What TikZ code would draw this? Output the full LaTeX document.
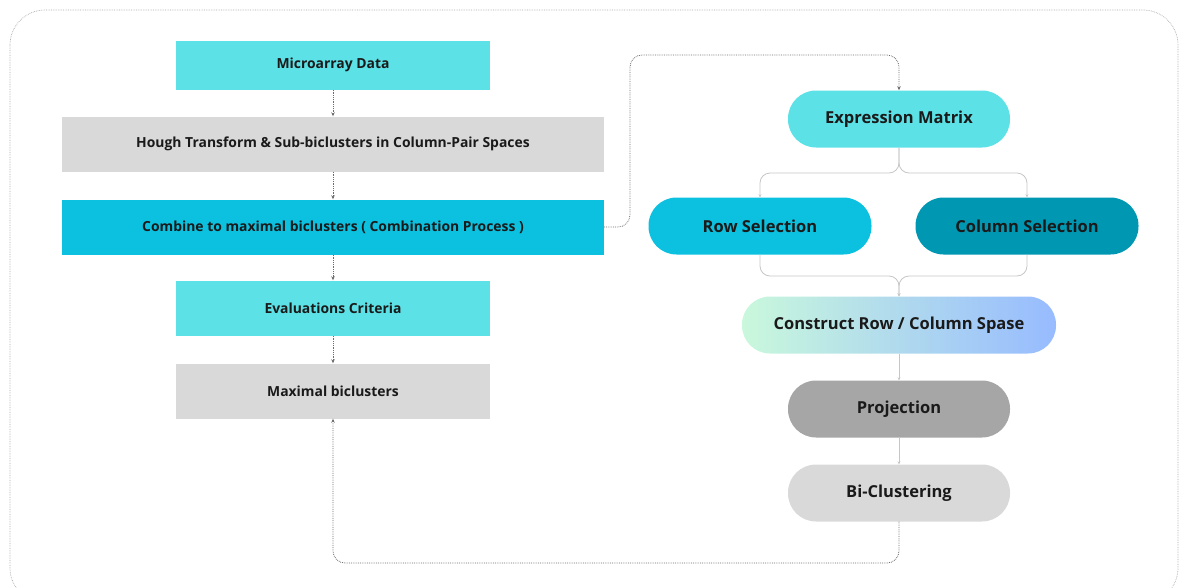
\documentclass[tikz,border=0pt]{standalone}
\usepackage{fontspec}
\setmainfont{Open Sans}
\usepackage{tikz}
\usetikzlibrary{arrows.meta}
\usepackage{xcolor}

\definecolor{turq}{HTML}{5CE1E6}
\definecolor{cyanbox}{HTML}{0CC0DF}
\definecolor{tealbox}{HTML}{0097B2}
\definecolor{lightbox}{HTML}{D9D9D9}
\definecolor{midbox}{HTML}{A6A6A6}
\definecolor{mintbox}{HTML}{C9F8DC}
\definecolor{bluebox}{HTML}{97BBFF}
\definecolor{inktext}{HTML}{1A1A1A}

\begin{document}
\begin{tikzpicture}[x=1pt, y=-1pt,
    box/.style={rectangle, inner sep=0pt, text=inktext,
      font=\fontsize{13.9}{16}\selectfont\bfseries},
    pill/.style={rectangle, rounded corners=28pt, inner sep=0pt, text=inktext,
      minimum height=57pt, font=\fontsize{16.5}{19}\selectfont\bfseries},
    flowdot/.style={densely dotted, gray!85!black, line width=0.8pt,
      rounded corners=12pt, -{Stealth[length=4pt,width=3.5pt]}},
    link/.style={gray!45, line width=0.8pt, rounded corners=10pt,
      -{Stealth[length=3pt,width=3pt]}}]
    \useasboundingbox (0,0) rectangle (1179,587);
    % outer frame
    \draw[densely dotted, gray!70, line width=0.7pt, rounded corners=35pt]
      (10,10) rectangle (1178,603);
    % left column
    \node[box, fill=turq, minimum width=314pt, minimum height=49pt] (micro) at (333,65) {Microarray Data};
    \node[box, fill=lightbox, minimum width=542pt, minimum height=55pt] (hough) at (333,144) {Hough Transform \& Sub-biclusters in Column-Pair Spaces};
    \node[box, fill=cyanbox, minimum width=542pt, minimum height=55pt] (comb) at (333,227) {Combine to maximal biclusters ( Combination Process )};
    \node[box, fill=turq, minimum width=314pt, minimum height=55pt] (evalc) at (333,308) {Evaluations Criteria};
    \node[box, fill=lightbox, minimum width=314pt, minimum height=55pt] (maxb) at (333,391) {Maximal biclusters};
    % right column
    \node[pill, fill=turq, minimum width=222pt] (expr) at (899,119) {Expression Matrix};
    \node[pill, fill=cyanbox, minimum width=223pt] (rowsel) at (760,226) {Row Selection};
    \node[pill, fill=tealbox, minimum width=223pt] (colsel) at (1027,226) {Column Selection};
    \node[pill, left color=mintbox, right color=bluebox, minimum width=314pt] (constr) at (899,325) {Construct Row / Column Spase};
    \node[pill, fill=midbox, minimum width=222pt] (proj) at (899,409) {Projection};
    \node[pill, fill=lightbox, minimum width=222pt] (bic) at (899,493) {Bi-Clustering};
    % helper points
    \coordinate (up) at (630,55);
    \coordinate (split) at (899,173);
    \coordinate (merge) at (899,276);
    \coordinate (loop) at (600,563);
    % dotted flow
    \draw[flowdot] (micro) -- (hough);
    \draw[flowdot] (hough) -- (comb);
    \draw[flowdot] (comb) -- (evalc);
    \draw[flowdot] (evalc) -- (maxb);
    \draw[flowdot] (comb.east) -| (up) -| (expr.north);
    \draw[flowdot] (bic.south) |- (loop) -| (maxb.south);
    % solid links
    \draw[link] (expr.south) -- (split) -| (rowsel.north);
    \draw[link] (expr.south) -- (split) -| (colsel.north);
    \draw[link] (rowsel.south) |- (merge) -- (constr.north);
    \draw[link] (colsel.south) |- (merge) -- (constr.north);
    \draw[link] (constr) -- (proj);
    \draw[link] (proj) -- (bic);
\end{tikzpicture}
\end{document}
